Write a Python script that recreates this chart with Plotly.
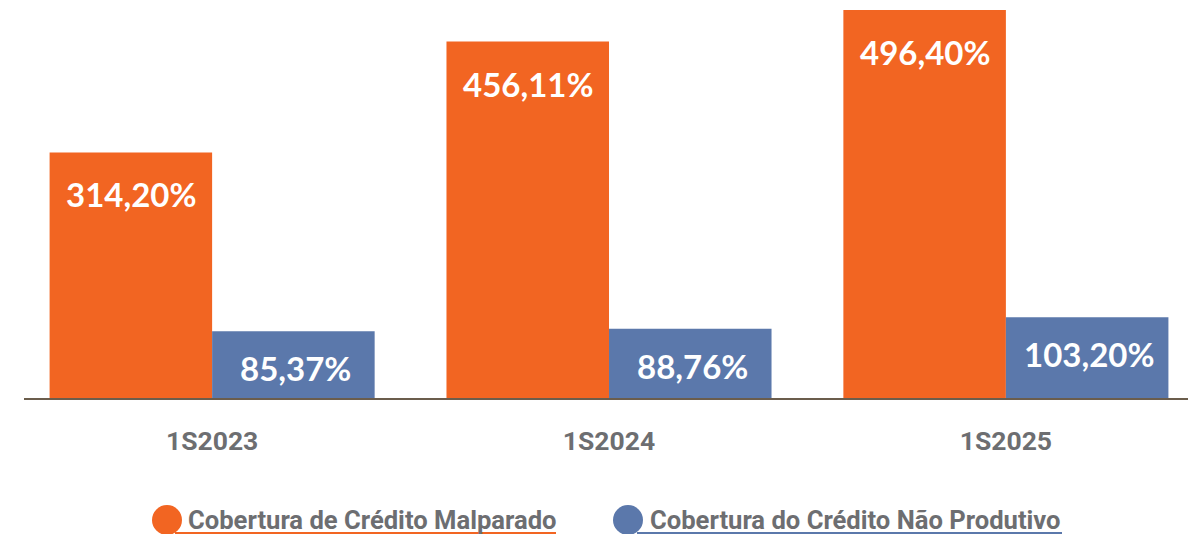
import plotly.graph_objects as go

categories = ["1S2023", "1S2024", "1S2025"]
series_names = ["Cobertura de Crédito Malparado", "Cobertura do Crédito Não Produtivo"]
malparado = [314.20, 456.11, 496.40]
nao_produtivo = [85.37, 88.76, 103.20]

ORANGE = "#F26522"
BLUE = "#5B78AB"
GREY = "#6D6E71"
AXIS = "#6B5D4C"

OFF = 8  # page body margin
W, H = 1196 - OFF, 534 - OFF
L, R, T, B = 16, 0, 0, 136
PW, PH = W - L - R, H - T - B


def px_x(page_x):
    return (page_x - OFF - L) / PW


def px_y(page_y):
    return (H - B - (page_y - OFF)) / PH


def fmt(v):
    return f"{v:.2f}".replace(".", ",") + "%"


fig = go.Figure()
fig.add_trace(go.Bar(x=categories, y=malparado, name=series_names[0],
                     marker=dict(color=ORANGE, line=dict(width=0)), showlegend=False))
fig.add_trace(go.Bar(x=categories, y=nao_produtivo, name=series_names[1],
                     marker=dict(color=BLUE, line=dict(width=0)), showlegend=False))

label_font = dict(family="Lato", size=33, color="white", weight="bold")
annotations = []
for i, c in enumerate(categories):
    annotations.append(dict(x=c, y=malparado[i], xref="x", yref="y", text=fmt(malparado[i]),
                            showarrow=False, xshift=-81, yshift=-42, yanchor="middle",
                            font=label_font))
    annotations.append(dict(x=c, y=nao_produtivo[i], xref="x", yref="y", text=fmt(nao_produtivo[i]),
                            showarrow=False, xshift=83, yshift=-37, yanchor="middle",
                            font=label_font))

# custom legend
legend_items = [
    (series_names[0], ORANGE, 167, 186, 175, 556),
    (series_names[1], BLUE, 628, 648, 637, 1062),
]
shapes = []
for name, col, cx, tx, ux0, ux1 in legend_items:
    shapes.append(dict(type="circle", xref="paper", yref="paper",
                       x0=px_x(cx - 15), x1=px_x(cx + 15), y0=px_y(535), y1=px_y(505),
                       fillcolor=col, line=dict(width=0), layer="below"))
    shapes.append(dict(type="line", xref="paper", yref="paper",
                       x0=px_x(ux0), x1=px_x(ux1), y0=px_y(533), y1=px_y(533),
                       line=dict(color=col, width=2)))
    annotations.append(dict(x=px_x(tx), y=px_y(520), xref="paper", yref="paper", text=name,
                            showarrow=False, xanchor="left", yanchor="middle",
                            font=dict(family="Roboto", size=25.6, color=GREY, weight="bold")))

fig.update_layout(
    width=W, height=H,
    margin=dict(l=L, r=R, t=T, b=B, pad=0),
    plot_bgcolor="white", paper_bgcolor="white",
    barmode="group", bargap=0.181, bargroupgap=0,
    xaxis=dict(range=[-0.474, 2.479], showgrid=False, showline=True, linecolor=AXIS, linewidth=2,
               ticks="", tickfont=dict(family="Roboto", size=26.5, color=GREY, weight="bold"),
               ticklabelstandoff=18),
    yaxis=dict(range=[0, 499], visible=False, showgrid=False, zeroline=False),
    annotations=annotations, shapes=shapes,
    showlegend=False,
)

fig.write_html("out.html")
